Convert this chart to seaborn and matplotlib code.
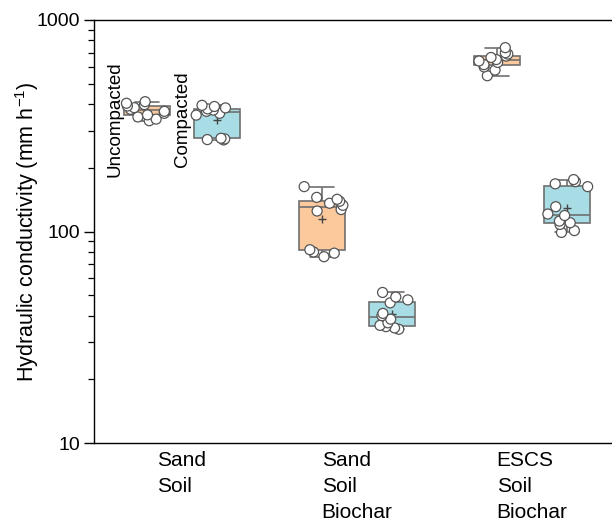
import numpy as np
import pandas as pd
import matplotlib
matplotlib.use("Agg")
import matplotlib.pyplot as plt
import seaborn as sns
from matplotlib.ticker import LogLocator, NullFormatter

# Categories and treatments
groups = ["Sand\nSoil", "Sand\nSoil\nBiochar", "ESCS\nSoil\nBiochar"]
conditions = ["Uncompacted", "Compacted"]

# Saturated hydraulic conductivity (mm h-1), one list per column x treatment
sand_soil_uncompacted = [334, 340, 348, 356, 362, 370, 378, 385, 392, 398, 404, 411]
sand_soil_compacted = [271, 272, 274, 276, 355, 362, 370, 375, 380, 384, 390, 395]
sand_biochar_uncompacted = [76, 79, 80, 82, 125, 127, 133, 136, 139, 142, 145, 163]
sand_biochar_compacted = [34.5, 35, 35.5, 36, 37, 38.5, 40, 41, 46, 47.5, 49, 51.5]
escs_biochar_uncompacted = [545, 580, 600, 615, 630, 640, 650, 665, 675, 690, 700, 740]
escs_biochar_compacted = [99, 101, 108, 110, 112, 119, 121, 131, 163, 168, 172, 176]

y_ticks = [10, 100, 1000]
y_tick_labels = ["10", "100", "1000"]

sns.set_theme(style="ticks")
plt.rcParams["font.family"] = ["Liberation Sans", "DejaVu Sans"]
plt.rcParams["mathtext.fontset"] = "custom"
plt.rcParams["mathtext.rm"] = "Liberation Sans"
plt.rcParams["mathtext.it"] = "Liberation Sans:italic"
plt.rcParams["mathtext.bf"] = "Liberation Sans:bold"
plt.rcParams["text.color"] = "black"
plt.rcParams["axes.labelcolor"] = "black"
plt.rcParams["xtick.color"] = "black"
plt.rcParams["ytick.color"] = "black"
plt.rcParams["xtick.labelcolor"] = "black"
plt.rcParams["ytick.labelcolor"] = "black"

series = {
    (groups[0], conditions[0]): sand_soil_uncompacted,
    (groups[0], conditions[1]): sand_soil_compacted,
    (groups[1], conditions[0]): sand_biochar_uncompacted,
    (groups[1], conditions[1]): sand_biochar_compacted,
    (groups[2], conditions[0]): escs_biochar_uncompacted,
    (groups[2], conditions[1]): escs_biochar_compacted,
}
rows = [(g, c, v) for (g, c), vals in series.items() for v in vals]
df = pd.DataFrame(rows, columns=["group", "condition", "k"])

fig = plt.figure(figsize=(6.12, 5.23), dpi=100)
ax = fig.add_axes([94 / 612, 80 / 523, 1 - 94 / 612, 423 / 523])

edge = "#707070"
box_palette = {"Uncompacted": "#FBC99C", "Compacted": "#A9DDE5"}

sns.boxplot(
    data=df, x="group", y="k", hue="condition",
    order=groups, hue_order=conditions, palette=box_palette, saturation=1,
    width=0.8, gap=0.33, whis=(0, 100), showfliers=False,
    linecolor=edge, linewidth=1.2, log_scale=True,
    showmeans=True,
    meanprops=dict(marker="+", markeredgecolor="#444444",
                   markerfacecolor="#444444", markersize=6, markeredgewidth=1.0),
    legend=False, ax=ax,
)

np.random.seed(3)
sns.stripplot(
    data=df, x="group", y="k", hue="condition",
    order=groups, hue_order=conditions,
    palette={"Uncompacted": "white", "Compacted": "white"},
    dodge=True, jitter=0.25, size=7.2, edgecolor="#555555", linewidth=0.9,
    log_scale=True, legend=False, zorder=3, ax=ax,
)

ax.set_ylim(10, 1000)
ax.set_xlim(-0.503, 2.457)
ax.set_yticks(y_ticks)
ax.set_yticklabels(y_tick_labels)
ax.yaxis.set_minor_locator(LogLocator(base=10, subs=np.arange(2, 10)))
ax.yaxis.set_minor_formatter(NullFormatter())
ax.tick_params(axis="y", which="major", length=7, width=1, direction="out",
               labelsize=14, color="black", labelcolor="black", pad=3)
ax.tick_params(axis="y", which="minor", length=4, width=0.9, direction="out",
               color="black")
ax.tick_params(axis="x", length=0, pad=6, labelsize=15, labelcolor="black")
for lbl in ax.get_xticklabels():
    lbl.set_multialignment("left")
    lbl.set_verticalalignment("top")
    lbl.set_linespacing(1.45)

ax.set_xlabel("")
ax.set_ylabel("Hydraulic conductivity (mm h$^{-1}$)", fontsize=15.5, labelpad=-3,
              color="black")

for side in ["left", "bottom", "top"]:
    ax.spines[side].set_color("black")
    ax.spines[side].set_linewidth(1.0)
ax.spines["right"].set_visible(False)

# Treatment labels above the first column
ax.text(-0.385, 340, "Uncompacted", rotation=90, ha="center", va="center",
        fontsize=13.5, color="black")
ax.text(0.005, 340, "Compacted", rotation=90, ha="center", va="center",
        fontsize=13.5, color="black")

fig.savefig("out.png", dpi=100)
